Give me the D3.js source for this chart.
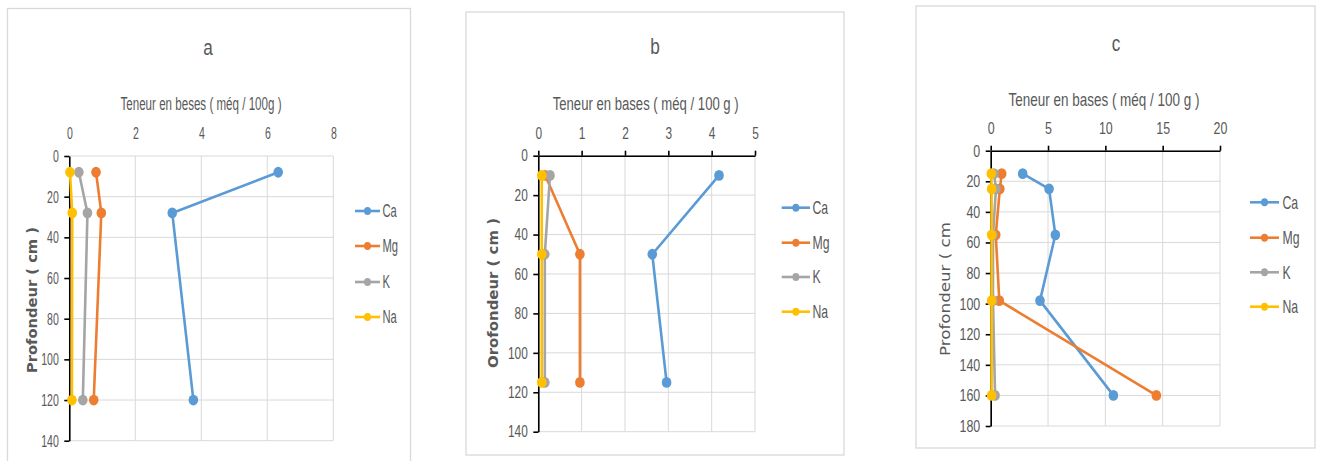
<!DOCTYPE html>
<html>
<head>
<meta charset="utf-8">
<script src="https://cdn.jsdelivr.net/npm/d3@7"></script>
<style>
  body { margin: 0; background: #fff; }
  svg { display: block; }
</style>
</head>
<body>
<svg id="chart" width="1323" height="461"></svg>
<script>
// Exchangeable bases by depth, three soil profiles (a, b, c)
const cations = ["Ca", "Mg", "K", "Na"];
const cationColors = ["#5B9BD5", "#ED7D31", "#A5A5A5", "#FFC000"];

// Profile a
const depthA = [8, 28, 120];
const caA = [6.33, 3.12, 3.76];
const mgA = [0.81, 0.97, 0.74];
const kA  = [0.29, 0.55, 0.41];
const naA = [0.02, 0.09, 0.08];
const xTicksA = [0, 2, 4, 6, 8];
const yTicksA = [0, 20, 40, 60, 80, 100, 120, 140];

// Profile b
const depthB = [10, 50, 115];
const caB = [4.17, 2.63, 2.96];
const mgB = [0.16, 0.96, 0.96];
const kB  = [0.27, 0.15, 0.15];
const naB = [0.08, 0.08, 0.08];
const xTicksB = [0, 1, 2, 3, 4, 5];
const yTicksB = [0, 20, 40, 60, 80, 100, 120, 140];

// Profile c
const depthC = [15, 25, 55, 98, 160];
const caC = [2.79, 5.09, 5.64, 4.30, 10.70];
const mgC = [0.96, 0.80, 0.44, 0.75, 14.45];
const kC  = [0.29, 0.46, 0.20, 0.20, 0.38];
const naC = [0.05, 0.08, 0.08, 0.08, 0.08];
const xTicksC = [0, 5, 10, 15, 20];
const yTicksC = [0, 20, 40, 60, 80, 100, 120, 140, 160, 180];

const panelTitles = ["a", "b", "c"];
const xTitles = [
  "Teneur en beses ( méq / 100g )",
  "Teneur en bases ( méq / 100 g )",
  "Teneur en bases ( méq / 100 g )"
];
const yTitles = ["Profondeur ( cm )", "Orofondeur ( cm )", "Profondeur ( cm"];

const panels = [
  {
    depth: depthA, series: [caA, mgA, kA, naA], xTicks: xTicksA, yTicks: yTicksA,
    frame: [7.5, 8.5, 410.5, 475],
    plot: { left: 69.3, right: 333.3, top: 156, bottom: 440.7 },
    topLine: false,
    tick: { size: 17, sx: 0.62 },
    title: [208, 47],
    xTitle: { x: 201, y: 104, w: 161, size: 17.5 },
    yTitle: { x: 32, y: 300, w: 146, size: 13.2, weight: "bold" },
    legend: { x1: 355, x2: 380, xt: 382.5, ys: [211, 246, 282, 317], sx: 0.64 }
  },
  {
    depth: depthB, series: [caB, mgB, kB, naB], xTicks: xTicksB, yTicks: yTicksB,
    frame: [466, 12, 844, 455],
    plot: { left: 538.3, right: 755, top: 155.7, bottom: 431.7 },
    topLine: true,
    tick: { size: 16.5, sx: 0.72 },
    title: [655, 46],
    xTitle: { x: 645.7, y: 104, w: 186, size: 18 },
    yTitle: { x: 493, y: 293, w: 150, size: 13.5, weight: "bold" },
    legend: { x1: 781.7, x2: 810, xt: 812.5, ys: [207.7, 242.7, 277, 311.7], sx: 0.7 }
  },
  {
    depth: depthC, series: [caC, mgC, kC, naC], xTicks: xTicksC, yTicks: yTicksC,
    frame: [916, 6, 1315, 448],
    plot: { left: 990.7, right: 1220, top: 150.7, bottom: 426 },
    topLine: true,
    tick: { size: 17, sx: 0.73 },
    title: [1116, 43],
    xTitle: { x: 1104, y: 99, w: 191, size: 18.5 },
    yTitle: { x: 945, y: 289, w: 134, size: 14.5, weight: "normal" },
    legend: { x1: 1250, x2: 1279, xt: 1282.5, ys: [202.3, 237.7, 272.3, 306.7], sx: 0.7 }
  }
];

const svg = d3.select("#chart");
const textColor = "#595959";
const sansFont = "'Liberation Sans', Arial, sans-serif";
const gridColor = "#d9d9d9";

panels.forEach((p, i) => {
  const g = svg.append("g");

  // chart frame
  g.append("rect")
    .attr("x", p.frame[0]).attr("y", p.frame[1])
    .attr("width", p.frame[2] - p.frame[0]).attr("height", p.frame[3] - p.frame[1])
    .attr("fill", "#fff").attr("stroke", gridColor).attr("stroke-width", 1.3);

  const x = d3.scaleLinear()
    .domain(d3.extent(p.xTicks)).range([p.plot.left, p.plot.right]);
  const y = d3.scaleLinear()
    .domain(d3.extent(p.yTicks)).range([p.plot.top, p.plot.bottom]);

  // gridlines
  const grid = g.append("g").attr("stroke", gridColor).attr("stroke-width", 1);
  grid.selectAll(".vg").data(p.xTicks).join("line")
    .attr("x1", d => x(d)).attr("x2", d => x(d))
    .attr("y1", p.plot.top).attr("y2", p.plot.bottom);
  grid.selectAll(".hg").data(p.yTicks).join("line")
    .attr("x1", p.plot.left).attr("x2", p.plot.right)
    .attr("y1", d => y(d)).attr("y2", d => y(d));

  // top value axis
  const topAxis = d3.axisTop(x).tickValues(p.xTicks).tickFormat(d3.format("d"))
    .tickSizeInner(p.topLine ? 5 : 0).tickSizeOuter(0)
    .tickPadding(p.topLine ? 12 : 17);
  const gx = g.append("g").attr("transform", `translate(0,${p.plot.top})`).call(topAxis);
  if (!p.topLine) gx.select(".domain").remove();
  gx.select(".domain").attr("stroke", "#000").attr("stroke-width", 1.6);
  gx.selectAll(".tick line").attr("stroke", "#000").attr("stroke-width", 1.6);
  gx.selectAll(".tick text")
    .attr("fill", textColor)
    .style("font-family", sansFont).style("font-size", p.tick.size + "px")
    .attr("transform", `scale(${p.tick.sx},1)`);

  // left depth axis
  const leftAxis = d3.axisLeft(y).tickValues(p.yTicks).tickFormat(d3.format("d"))
    .tickSizeInner(5).tickSizeOuter(0).tickPadding(5.5);
  const gy = g.append("g").attr("transform", `translate(${p.plot.left},0)`).call(leftAxis);
  gy.select(".domain").attr("stroke", "#000").attr("stroke-width", 1.6);
  gy.selectAll(".tick line").attr("stroke", "#000").attr("stroke-width", 1.6);
  gy.selectAll(".tick text")
    .attr("fill", textColor)
    .style("font-family", sansFont).style("font-size", p.tick.size + "px")
    .attr("x", -10.5 / p.tick.sx)
    .attr("transform", `scale(${p.tick.sx},1)`);

  // series: one line with markers per cation
  const line = d3.line().x(d => x(d.v)).y(d => y(d.depth));
  cations.forEach((name, s) => {
    const pts = p.depth.map((dep, k) => ({ depth: dep, v: p.series[s][k] }));
    const sg = g.append("g");
    sg.append("path").datum(pts)
      .attr("d", line).attr("fill", "none")
      .attr("stroke", cationColors[s]).attr("stroke-width", 2.6)
      .attr("stroke-linejoin", "round").attr("stroke-linecap", "round");
    sg.selectAll("ellipse").data(pts).join("ellipse")
      .attr("cx", d => x(d.v)).attr("cy", d => y(d.depth))
      .attr("rx", 4.8).attr("ry", 5.4)
      .attr("fill", cationColors[s]);
  });

  // panel title
  g.append("text")
    .attr("x", p.title[0]).attr("y", p.title[1])
    .attr("text-anchor", "middle").attr("dominant-baseline", "central")
    .attr("fill", textColor)
    .style("font-family", sansFont).style("font-size", "22px")
    .attr("transform", `translate(${p.title[0]},0) scale(0.78,1) translate(${-p.title[0]},0)`)
    .text(panelTitles[i]);

  // value axis title
  g.append("text")
    .attr("x", p.xTitle.x - p.xTitle.w / 2).attr("y", p.xTitle.y)
    .attr("dominant-baseline", "central")
    .attr("textLength", p.xTitle.w).attr("lengthAdjust", "spacingAndGlyphs")
    .attr("fill", textColor)
    .style("font-family", sansFont).style("font-size", p.xTitle.size + "px")
    .text(xTitles[i]);

  // depth axis title
  g.append("text")
    .attr("transform", `translate(${p.yTitle.x},${p.yTitle.y}) rotate(-90)`)
    .attr("x", -p.yTitle.w / 2).attr("y", 0)
    .attr("dominant-baseline", "central")
    .attr("textLength", p.yTitle.w).attr("lengthAdjust", "spacingAndGlyphs")
    .attr("fill", textColor)
    .style("font-family", "'DejaVu Sans', Verdana, sans-serif")
    .style("font-size", p.yTitle.size + "px").style("font-weight", p.yTitle.weight)
    .text(yTitles[i]);

  // legend
  const lg = g.append("g");
  cations.forEach((name, s) => {
    const ly = p.legend.ys[s];
    lg.append("line")
      .attr("x1", p.legend.x1).attr("x2", p.legend.x2)
      .attr("y1", ly).attr("y2", ly)
      .attr("stroke", cationColors[s]).attr("stroke-width", 2.6);
    lg.append("ellipse")
      .attr("cx", (p.legend.x1 + p.legend.x2) / 2).attr("cy", ly)
      .attr("rx", 3.5).attr("ry", 4).attr("fill", cationColors[s]);
    lg.append("text")
      .attr("transform", `translate(${p.legend.xt},${ly}) scale(${p.legend.sx},1)`)
      .attr("dominant-baseline", "central")
      .attr("fill", textColor)
      .style("font-family", sansFont).style("font-size", "17.5px")
      .text(name);
  });
});
</script>
</body>
</html>
